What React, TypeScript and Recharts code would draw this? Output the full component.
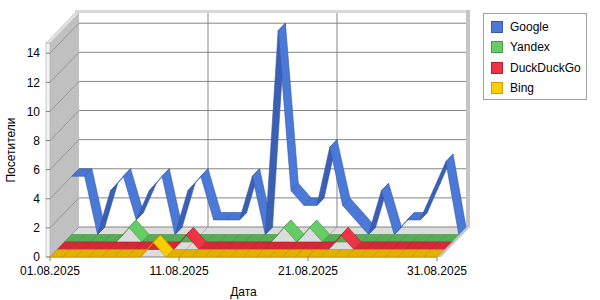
import React from "react";
import {
  LineChart,
  Line,
  XAxis,
  YAxis,
  ReferenceArea,
  ReferenceLine,
  Legend,
  Label,
} from "recharts";

const dates = [
  "01.08.2025", "02.08.2025", "03.08.2025", "04.08.2025", "05.08.2025", "06.08.2025",
  "07.08.2025", "08.08.2025", "09.08.2025", "10.08.2025", "11.08.2025", "12.08.2025",
  "13.08.2025", "14.08.2025", "15.08.2025", "16.08.2025", "17.08.2025", "18.08.2025",
  "19.08.2025", "20.08.2025", "21.08.2025", "22.08.2025", "23.08.2025", "24.08.2025",
  "25.08.2025", "26.08.2025", "27.08.2025", "28.08.2025", "29.08.2025", "30.08.2025",
  "31.08.2025",
];
const google = [4, 4, 0, 3, 4, 1, 3, 4, 0, 3, 4, 1, 1, 1, 4, 0, 14, 3, 2, 2, 6, 2, 1, 0, 3, 0, 1, 1, 3, 5, 0];
const yandex = [0, 0, 0, 0, 0, 1, 0, 0, 0, 0, 0, 0, 0, 0, 0, 0, 0, 1, 0, 1, 0, 0, 0, 0, 0, 0, 0, 0, 0, 0, 0];
const duckduckgo = [0, 0, 0, 0, 0, 0, 0, 0, 0, 0, 1, 0, 0, 0, 0, 0, 0, 0, 0, 0, 0, 0, 1, 0, 0, 0, 0, 0, 0, 0, 0];
const bing = [0, 0, 0, 0, 0, 0, 0, 0, 1, 0, 0, 0, 0, 0, 0, 0, 0, 0, 0, 0, 0, 0, 0, 0, 0, 0, 0, 0, 0, 0, 0];

const yTicks = [0, 2, 4, 6, 8, 10, 12, 14];
const xGridDates = ["11.08.2025", "21.08.2025"];
const Y_MAX = 14.7;

// 3d look: depth of the whole box and of one series row
const DEPTH_X = 29;
const DEPTH_Y = 30;
const ROW_X = DEPTH_X / 4;
const ROW_Y = DEPTH_Y / 4;
const FONT = "'Liberation Sans', Arial, sans-serif";

const series = [
  { key: "google", name: "Google", row: 3, light: "#4b79d8", mid: "#4876d4", dark: "#3b5fb3", edge: "#3557a8", box: "#4a78d8", boxEdge: "#3a5aa8" },
  { key: "yandex", name: "Yandex", row: 2, light: "#66cc66", mid: "#56ad56", dark: "#4c9c4c", edge: "#449244", box: "#66cc66", boxEdge: "#4a9a4a" },
  { key: "duckduckgo", name: "DuckDuckGo", row: 1, light: "#ee3344", mid: "#d42a36", dark: "#b52430", edge: "#a8202b", box: "#ee3344", boxEdge: "#b02030" },
  { key: "bing", name: "Bing", row: 0, light: "#ffcc00", mid: "#e2b100", dark: "#c89c00", edge: "#b89000", box: "#ffcc00", boxEdge: "#c9a000" },
];

const data = dates.map((date, i) => ({
  date,
  google: google[i],
  yandex: yandex[i],
  duckduckgo: duckduckgo[i],
  bing: bing[i],
}));

type Pt = { x: number; y: number };

// each dot draws the ribbon piece from the previous point to this one
function makeRibbon(s: (typeof series)[number]) {
  let prev: Pt | null = null;
  return (props: any) => {
    const { cx, cy, index, points } = props;
    if (index === 0) prev = null;
    let p: Pt | null = prev;
    if (points && index > 0 && points[index - 1]) p = { x: points[index - 1].x, y: points[index - 1].y };
    prev = { x: cx, y: cy };
    if (!p || cx == null || cy == null) return <g key={`${s.key}-${index}`} />;
    const ox = s.row * ROW_X;
    const oy = s.row * ROW_Y;
    const pts = [
      [p.x + ox, p.y - oy],
      [cx + ox, cy - oy],
      [cx + ox + ROW_X, cy - oy - ROW_Y],
      [p.x + ox + ROW_X, p.y - oy - ROW_Y],
    ];
    const slope = (p.y - cy) / (cx - p.x);
    const fill = slope > 2 ? s.dark : Math.abs(slope) < 0.01 ? s.mid : s.light;
    return (
      <polygon
        key={`${s.key}-${index}`}
        points={pts.map((q) => q.join(",")).join(" ")}
        fill={fill}
        stroke={s.edge}
        strokeWidth={0.6}
        strokeLinejoin="round"
      />
    );
  };
}

function Walls(props: any) {
  const { x, y, width: w, height: h } = props;
  const poly = (arr: number[][]) => arr.map((q) => q.join(",")).join(" ");
  return (
    <g>
      {/* floor */}
      <polygon points={poly([[x, y + h], [x + w, y + h], [x + w + DEPTH_X, y + h - DEPTH_Y], [x + DEPTH_X, y + h - DEPTH_Y]])} fill="#dcdcdc" />
      {/* left wall */}
      <polygon points={poly([[x, y], [x + DEPTH_X, y - DEPTH_Y], [x + DEPTH_X, y + h - DEPTH_Y], [x, y + h]])} fill="#c0c0c0" />
      <rect x={x - 4} y={y} width={4} height={h} fill="#f4f4f4" stroke="#a8a8a8" strokeWidth={0.6} />
      <polygon points={poly([[x - 4, y], [x, y], [x + DEPTH_X, y - DEPTH_Y], [x + DEPTH_X - 4, y - DEPTH_Y]])} fill="#e2e2e2" stroke="#b8b8b8" strokeWidth={0.6} />
      {/* top edge of back wall */}
      <rect x={x + DEPTH_X - 4} y={y - DEPTH_Y - 3} width={w + 8} height={3} fill="#d8d8d8" />
      {/* right edge */}
      <rect x={x + w + DEPTH_X} y={y - DEPTH_Y - 3} width={4} height={h + 3} fill="#c4c4c4" />
      <polygon points={poly([[x + w + DEPTH_X, y + h - DEPTH_Y], [x + w + DEPTH_X + 4, y + h - DEPTH_Y], [x + w + 4, y + h], [x + w, y + h]])} fill="#c4c4c4" />
    </g>
  );
}

function HGrid(props: any) {
  const { x1, y1, x2, y2 } = props;
  return (
    <g>
      <line x1={x1 + DEPTH_X} y1={y1 - DEPTH_Y} x2={x2 + DEPTH_X} y2={y2 - DEPTH_Y} stroke="#858585" strokeWidth={1} />
      <line x1={x1} y1={y1} x2={x1 + DEPTH_X} y2={y1 - DEPTH_Y} stroke="#8a8a8a" strokeWidth={0.8} />
    </g>
  );
}

function VGrid(props: any) {
  const { x1, y1, x2, y2 } = props;
  const bottom = Math.max(y1, y2);
  return (
    <g>
      <line x1={x1 + DEPTH_X} y1={y1 - DEPTH_Y} x2={x2 + DEPTH_X} y2={y2 - DEPTH_Y} stroke="#858585" strokeWidth={1} />
      <line x1={x1} y1={bottom} x2={x1 + DEPTH_X} y2={bottom - DEPTH_Y} stroke="#a0a0a0" strokeWidth={0.8} />
    </g>
  );
}

function LegendBox() {
  return (
    <div
      style={{
        boxSizing: "border-box",
        width: 104,
        height: 87,
        border: "1px solid #a0a0a0",
        background: "#fff",
        paddingTop: 3,
        fontFamily: FONT,
        fontSize: 12,
        color: "#000",
      }}
    >
      {series.map((s) => (
        <div key={s.key} style={{ display: "flex", alignItems: "center", height: 20.3, paddingLeft: 7 }}>
          <span
            style={{
              display: "inline-block",
              boxSizing: "border-box",
              width: 12,
              height: 12,
              background: s.box,
              border: `1px solid ${s.boxEdge}`,
              marginRight: 7,
            }}
          />
          <span>{s.name}</span>
        </div>
      ))}
    </div>
  );
}

export default function App() {
  return (
    <div style={{ position: "absolute", left: 0, top: 0, width: 600, height: 300, background: "#fff", fontFamily: FONT }}>
      <LineChart width={600} height={300} data={data} margin={{ top: 43, right: 163, bottom: 0, left: 0 }}>
        <XAxis
          dataKey="date"
          interval={9}
          height={43}
          tickSize={4}
          tickMargin={5}
          axisLine={{ stroke: "#808080" }}
          tickLine={{ stroke: "#808080" }}
          tick={{ fontSize: 12, fill: "#000", fontFamily: FONT }}
        >
          <Label value="Дата" position="insideBottom" offset={4} style={{ fontSize: 12, fill: "#000", fontFamily: FONT }} />
        </XAxis>
        <YAxis
          domain={[0, Y_MAX]}
          ticks={yTicks}
          width={50}
          tickSize={4}
          tickMargin={6}
          axisLine={false}
          tickLine={{ stroke: "#808080" }}
          tick={{ fontSize: 12, fill: "#000", fontFamily: FONT }}
        >
          <Label
            value="Посетители"
            angle={-90}
            position="insideLeft"
            offset={11}
            style={{ fontSize: 12, fill: "#000", fontFamily: FONT, textAnchor: "middle" }}
          />
        </YAxis>
        <ReferenceArea
          x1={dates[0]}
          x2={dates[dates.length - 1]}
          y1={0}
          y2={Y_MAX}
          shape={Walls}
          ifOverflow="visible"
          zIndex={-300}
        />
        {yTicks.map((v) => (
          <ReferenceLine key={`h${v}`} y={v} shape={HGrid} ifOverflow="visible" zIndex={-200} />
        ))}
        {xGridDates.map((d) => (
          <ReferenceLine key={`v${d}`} x={d} shape={VGrid} ifOverflow="visible" zIndex={-200} />
        ))}
        {series.map((s) => (
          <Line
            key={s.key}
            dataKey={s.key}
            name={s.name}
            stroke={s.box}
            strokeWidth={0}
            dot={makeRibbon(s)}
            activeDot={false}
            isAnimationActive={false}
          />
        ))}
        <Legend
          layout="horizontal"
          verticalAlign="middle"
          align="center"
          content={() => <LegendBox />}
          wrapperStyle={{ left: 483, top: 13, width: 104, height: 87 }}
        />
      </LineChart>
    </div>
  );
}
